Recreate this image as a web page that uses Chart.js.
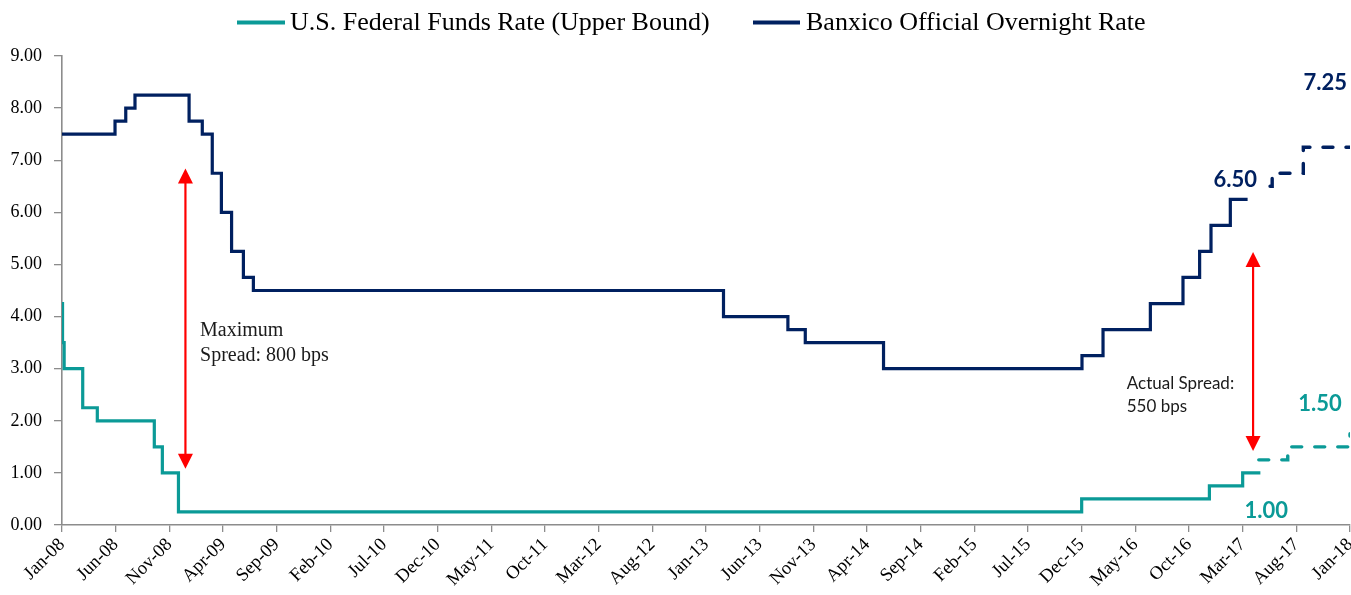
<!DOCTYPE html>
<html>
<head>
<meta charset="utf-8">
<script src="https://cdn.jsdelivr.net/npm/chart.js@4.4.1/dist/chart.umd.min.js"></script>
<style>
html,body{margin:0;padding:0;background:#fff;}
#wrap{width:1351px;height:595px;}
</style>
</head>
<body>
<div id="wrap"><canvas id="c" width="1351" height="595"></canvas></div>
<script>
// ---- tick labels (x axis, months since Jan-08) ----
const tickLabels = ['Jan-08','Jun-08','Nov-08','Apr-09','Sep-09','Feb-10','Jul-10','Dec-10','May-11','Oct-11','Mar-12','Aug-12','Jan-13','Jun-13','Nov-13','Apr-14','Sep-14','Feb-15','Jul-15','Dec-15','May-16','Oct-16','Mar-17','Aug-17','Jan-18'];
const tickMonths = [0,5,10,15,20,25,30,35,40,45,50,55,60,65,70,75,80,85,90,95,100,105,110,115,120];

// ---- U.S. Federal Funds Rate (upper bound): change points ----
const fedMonths = [0, 0.05, 0.2, 1.93, 3.29, 8.6, 9.35, 10.85, 95.0, 106.9, 110.0, 111.65];
const fedRates  = [4.25, 3.5, 3.0, 2.25, 2.0, 1.5, 1.0, 0.25, 0.5, 0.75, 1.0, 1.0];
// projected (dashed)
const fedProjMonths = [111.5, 114.2, 120];
const fedProjRates  = [1.25, 1.5, 1.75];

// ---- Banxico Official Overnight Rate: change points ----
const banxMonths = [0, 4.94, 5.94, 6.8, 11.84, 13.07, 14.0, 14.85, 15.8, 16.9, 17.83, 61.63, 67.63, 69.25, 76.54, 95.03, 96.99, 101.4, 104.44, 105.99, 107.05, 108.85, 110.46];
const banxRates  = [7.5, 7.75, 8.0, 8.25, 7.75, 7.5, 6.75, 6.0, 5.25, 4.75, 4.5, 4.0, 3.75, 3.5, 3.0, 3.25, 3.75, 4.25, 4.75, 5.25, 5.75, 6.25, 6.25];
// projected (dashed)
const banxProjMonths = [112.55, 112.75, 115.65, 120];
const banxProjRates  = [6.5, 6.75, 7.25, 7.25];

// ---- series names ----
const seriesNames = ['U.S. Federal Funds Rate (Upper Bound)', 'Banxico Official Overnight Rate'];

// ---- annotations (in data units) ----
const spreadArrows = [
  {month: 11.5, low: 1.08, high: 6.84},
  {month: 110.97, low: 1.42, high: 5.24}
];
const spreadNotes = [
  {text: 'Maximum', month: 12.86, value: 3.62, kind: 'serif'},
  {text: 'Spread: 800 bps', month: 12.86, value: 3.14, kind: 'serif'},
  {text: 'Actual Spread:', month: 99.2, value: 2.61, kind: 'sans'},
  {text: '550 bps', month: 99.2, value: 2.17, kind: 'sans'}
];
const valueLabels = [
  {text: '6.50', month: 109.3, value: 6.49, series: 1},
  {text: '7.25', month: 117.7, value: 8.35, series: 1},
  {text: '1.50', month: 117.2, value: 2.19, series: 0},
  {text: '1.00', month: 112.2, value: 0.125, series: 0}
];

const TEAL = '#0B9A97';
const NAVY = '#002060';
const AXIS = '#8C8C8C';
const SERIF = '"Liberation Serif", "Times New Roman", serif';
const SANS = 'Lato, "Noto Sans", sans-serif';

function steps(months, rates) { return months.map((m, i) => ({x: m, y: rates[i]})); }

const legendPlugin = {
  id: 'customLegend',
  afterDraw(chart) {
    const ctx = chart.ctx;
    ctx.save();
    const items = [
      {color: TEAL, x1: 237, x2: 285, tx: 290, text: seriesNames[0]},
      {color: NAVY, x1: 753, x2: 800, tx: 806, text: seriesNames[1]}
    ];
    ctx.font = '26px ' + SERIF;
    ctx.textBaseline = 'middle';
    ctx.textAlign = 'left';
    items.forEach(it => {
      ctx.strokeStyle = it.color;
      ctx.lineWidth = 4;
      ctx.lineCap = 'butt';
      ctx.beginPath();
      ctx.moveTo(it.x1, 22.5);
      ctx.lineTo(it.x2, 22.5);
      ctx.stroke();
      ctx.fillStyle = '#000';
      ctx.fillText(it.text, it.tx, 23);
    });
    ctx.restore();
  }
};

const annotationPlugin = {
  id: 'spreadAnnotations',
  afterDatasetsDraw(chart) {
    const ctx = chart.ctx;
    const xs = chart.scales.x, ys = chart.scales.y;
    ctx.save();
    spreadArrows.forEach(a => {
      const px = xs.getPixelForValue(a.month);
      const yTop = ys.getPixelForValue(a.high);
      const yBot = ys.getPixelForValue(a.low);
      const hl = 15, hw = 7.5;
      ctx.strokeStyle = '#FF0000';
      ctx.fillStyle = '#FF0000';
      ctx.lineWidth = 2.2;
      ctx.beginPath();
      ctx.moveTo(px, yTop + hl - 1);
      ctx.lineTo(px, yBot - hl + 1);
      ctx.stroke();
      ctx.beginPath();
      ctx.moveTo(px, yTop);
      ctx.lineTo(px - hw, yTop + hl);
      ctx.lineTo(px + hw, yTop + hl);
      ctx.closePath();
      ctx.fill();
      ctx.beginPath();
      ctx.moveTo(px, yBot);
      ctx.lineTo(px - hw, yBot - hl);
      ctx.lineTo(px + hw, yBot - hl);
      ctx.closePath();
      ctx.fill();
    });
    ctx.textAlign = 'left';
    ctx.textBaseline = 'alphabetic';
    spreadNotes.forEach(n => {
      ctx.font = n.kind === 'serif' ? ('20px ' + SERIF) : ('17px ' + SANS);
      ctx.fillStyle = '#1a1a1a';
      ctx.fillText(n.text, xs.getPixelForValue(n.month), ys.getPixelForValue(n.value));
    });
    ctx.textAlign = 'center';
    valueLabels.forEach(l => {
      ctx.font = 'bold 22px ' + SANS;
      ctx.fillStyle = l.series === 1 ? NAVY : TEAL;
      ctx.fillText(l.text, xs.getPixelForValue(l.month), ys.getPixelForValue(l.value));
    });
    ctx.restore();
  }
};

const solidBase = {pointRadius: 0, borderWidth: 3.2, fill: false, stepped: 'before', borderJoinStyle: 'miter', tension: 0};
const dashBase = {pointRadius: 0, borderWidth: 3.4, fill: false, stepped: 'before', borderDash: [10, 13], borderCapStyle: 'round', tension: 0};

new Chart(document.getElementById('c').getContext('2d'), {
  type: 'line',
  data: {
    datasets: [
      Object.assign({label: seriesNames[0], data: steps(fedMonths, fedRates), borderColor: TEAL}, solidBase),
      Object.assign({label: seriesNames[1], data: steps(banxMonths, banxRates), borderColor: NAVY}, solidBase),
      Object.assign({label: seriesNames[0] + ' (projection)', data: steps(fedProjMonths, fedProjRates), borderColor: TEAL}, dashBase),
      Object.assign({label: seriesNames[1] + ' (projection)', data: steps(banxProjMonths, banxProjRates), borderColor: NAVY}, dashBase)
    ]
  },
  options: {
    responsive: false,
    animation: false,
    devicePixelRatio: 1,
    layout: {padding: {top: 56, right: 1, left: 0, bottom: 0}},
    plugins: {legend: {display: false}, tooltip: {enabled: false}},
    scales: {
      x: {
        type: 'linear', min: 0, max: 120,
        afterBuildTicks: s => { s.ticks = tickMonths.map(v => ({value: v})); },
        afterFit: s => { s.height = 70; s.paddingRight = 0; s.paddingLeft = 0; },
        ticks: {
          autoSkip: false, maxRotation: 45, minRotation: 45, padding: 2,
          callback: (v, i) => tickLabels[i],
          font: {family: SERIF, size: 18.5}, color: '#000'
        },
        grid: {drawOnChartArea: false, drawTicks: true, tickLength: 7, color: AXIS, lineWidth: 1.3},
        border: {color: AXIS, width: 1.6}
      },
      y: {
        min: 0, max: 9,
        afterFit: s => { s.width = 62; s.paddingTop = 0; s.paddingBottom = 0; },
        ticks: {stepSize: 1, padding: 12, callback: v => Number(v).toFixed(2), font: {family: SERIF, size: 18}, color: '#000'},
        grid: {drawOnChartArea: false, drawTicks: true, tickLength: 8, color: AXIS, lineWidth: 1.3},
        border: {color: AXIS, width: 1.6}
      }
    }
  },
  plugins: [legendPlugin, annotationPlugin]
});
</script>
</body>
</html>
